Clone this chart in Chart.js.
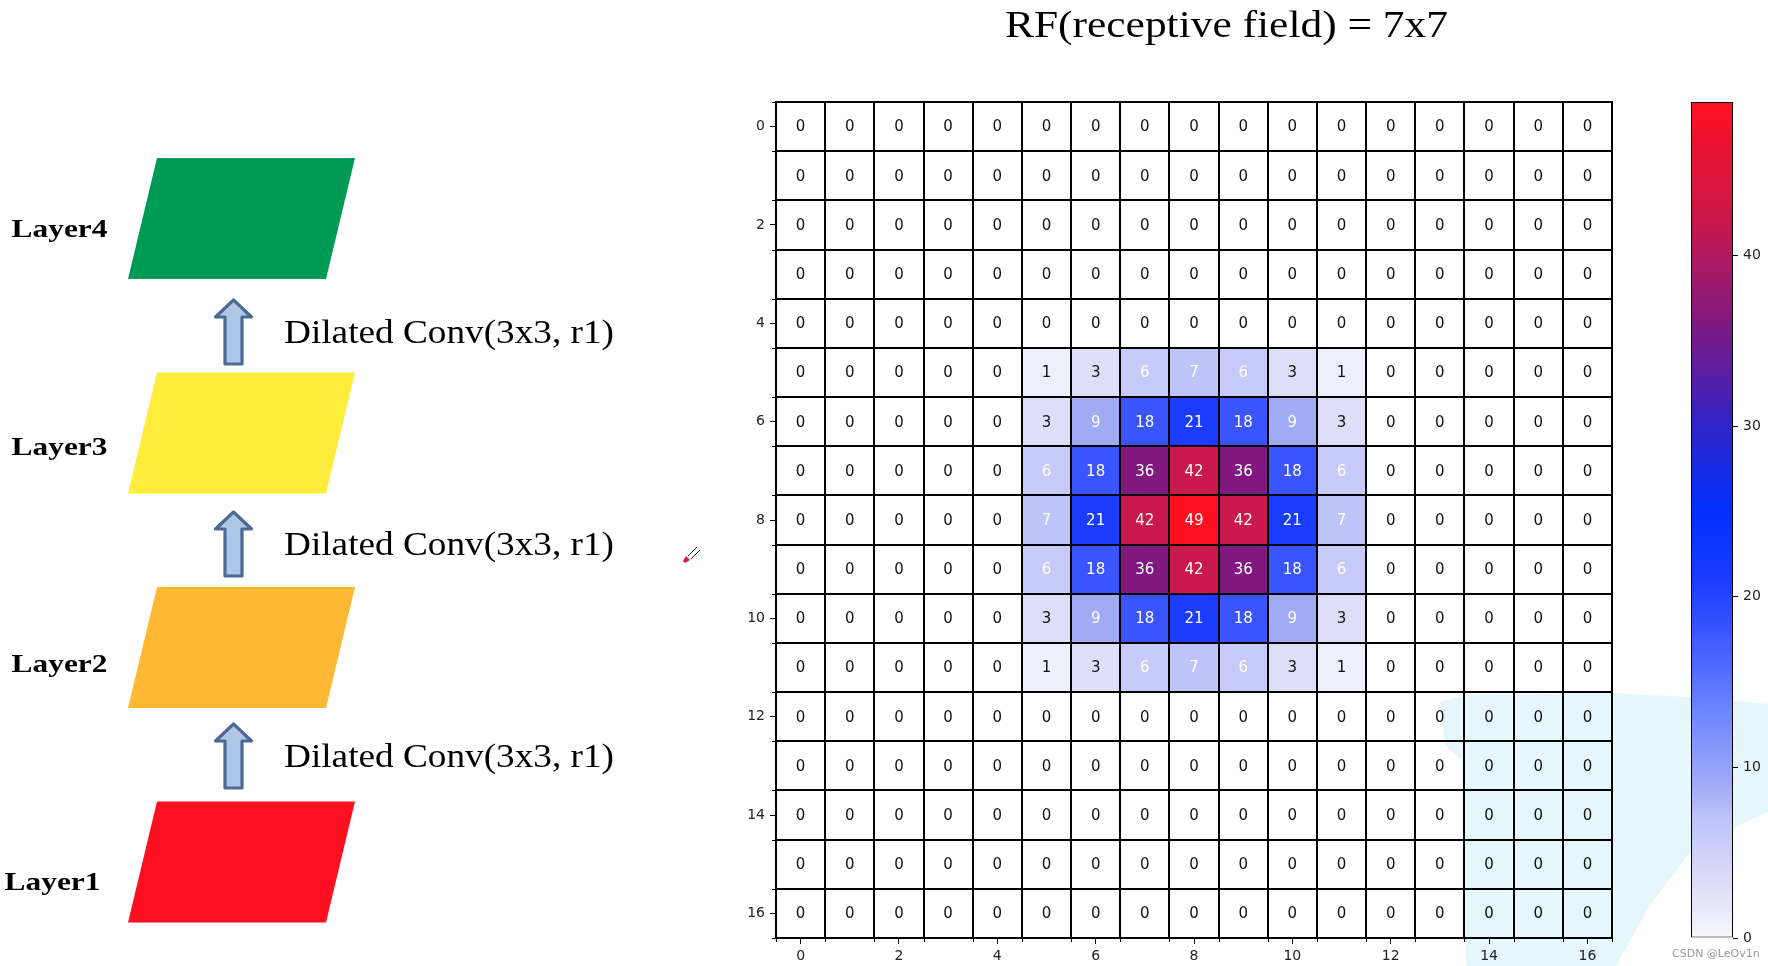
<!DOCTYPE html>
<html>
<head>
<meta charset="utf-8">
<script src="https://cdn.jsdelivr.net/npm/chart.js@4.4.1/dist/chart.umd.min.js"></script>
<style>
html,body{margin:0;padding:0;background:#fff;overflow:hidden;}
#wrap{position:relative;width:1768px;height:966px;background:#fff;}
#main{position:absolute;left:0;top:0;}
#cbar{position:absolute;left:1680px;top:0;}
</style>
</head>
<body>
<div id="wrap">
<canvas id="main" width="1768" height="966"></canvas>
<canvas id="cbar" width="88" height="966"></canvas>
</div>
<script>
// ---------------- DATA ----------------
const titleText = 'RF(receptive field) = 7x7';
const layerNames = ['Layer4', 'Layer3', 'Layer2', 'Layer1'];
const convLabels = ['Dilated Conv(3x3, r1)', 'Dilated Conv(3x3, r1)', 'Dilated Conv(3x3, r1)'];
const colIndex = [0,1,2,3,4,5,6,7,8,9,10,11,12,13,14,15,16];
const rowIndex = [0,1,2,3,4,5,6,7,8,9,10,11,12,13,14,15,16];
const gridValues = [
  [0,0,0,0,0,0,0,0,0,0,0,0,0,0,0,0,0],
  [0,0,0,0,0,0,0,0,0,0,0,0,0,0,0,0,0],
  [0,0,0,0,0,0,0,0,0,0,0,0,0,0,0,0,0],
  [0,0,0,0,0,0,0,0,0,0,0,0,0,0,0,0,0],
  [0,0,0,0,0,0,0,0,0,0,0,0,0,0,0,0,0],
  [0,0,0,0,0,1,3,6,7,6,3,1,0,0,0,0,0],
  [0,0,0,0,0,3,9,18,21,18,9,3,0,0,0,0,0],
  [0,0,0,0,0,6,18,36,42,36,18,6,0,0,0,0,0],
  [0,0,0,0,0,7,21,42,49,42,21,7,0,0,0,0,0],
  [0,0,0,0,0,6,18,36,42,36,18,6,0,0,0,0,0],
  [0,0,0,0,0,3,9,18,21,18,9,3,0,0,0,0,0],
  [0,0,0,0,0,1,3,6,7,6,3,1,0,0,0,0,0],
  [0,0,0,0,0,0,0,0,0,0,0,0,0,0,0,0,0],
  [0,0,0,0,0,0,0,0,0,0,0,0,0,0,0,0,0],
  [0,0,0,0,0,0,0,0,0,0,0,0,0,0,0,0,0],
  [0,0,0,0,0,0,0,0,0,0,0,0,0,0,0,0,0],
  [0,0,0,0,0,0,0,0,0,0,0,0,0,0,0,0,0]
];
const axisTicks = [0,2,4,6,8,10,12,14,16];
const colorbarTicks = [0,10,20,30,40];
const colorbarMin = 0;
const colorbarMax = 49;
const watermarkText = 'CSDN @LeOv1n';

// ---------------- STYLE ----------------
const cmapStops = [
  [0, [255,255,255]], [1, [238,238,252]], [3, [222,222,248]], [6, [198,202,248]],
  [7, [190,195,248]], [9, [160,171,246]], [13, [112,136,255]], [18, [58,85,255]],
  [21, [26,60,255]], [25, [0,48,255]], [30, [48,36,200]], [36, [128,24,128]],
  [42, [200,24,76]], [49, [255,16,32]]
];
const colorbarBottom = [250,247,255];
function rgbStr(c) { return `rgb(${c[0]},${c[1]},${c[2]})`; }
function cmap(v) {
  for (let i = 1; i < cmapStops.length; i++) {
    const [v1, c1] = cmapStops[i];
    const [v0, c0] = cmapStops[i - 1];
    if (v <= v1) {
      const t = (v - v0) / (v1 - v0);
      return rgbStr(c0.map((a, k) => Math.round(a + (c1[k] - a) * t)));
    }
  }
  return rgbStr(cmapStops[cmapStops.length - 1][1]);
}
const layerColors = { Layer4: '#009a57', Layer3: '#ffec3d', Layer2: '#ffb833', Layer1: '#ff1020' };
const mplFont = '"DejaVu Sans", sans-serif';

function stretchText(ctx, text, x, baseline, font, width, color) {
  ctx.save();
  ctx.font = font;
  ctx.fillStyle = color;
  ctx.textAlign = 'left';
  ctx.textBaseline = 'alphabetic';
  const w = ctx.measureText(text).width;
  ctx.translate(x, baseline);
  ctx.scale(width / w, 1);
  ctx.fillText(text, 0, 0);
  ctx.restore();
}

// ---------------- LEFT DIAGRAM + TITLE ----------------
const diagramPlugin = {
  id: 'diagram',
  beforeDraw(chart) {
    const ctx = chart.ctx;
    ctx.save();
    layerNames.forEach((name, i) => {
      const top = 158 + i * 214.5;
      const h = 121;
      ctx.fillStyle = layerColors[name];
      ctx.beginPath();
      ctx.moveTo(157, top);
      ctx.lineTo(355, top);
      ctx.lineTo(326, top + h);
      ctx.lineTo(128, top + h);
      ctx.closePath();
      ctx.fill();
      const lx = name === 'Layer1' ? 4.5 : 11.5;
      stretchText(ctx, name, lx, 237 + i * 217.6, 'bold 25px "Liberation Serif", serif', 96, '#000');
    });
    convLabels.forEach((lab, i) => {
      const dy = i * 212;
      const cx = 233.5;
      ctx.beginPath();
      ctx.moveTo(cx, 300 + dy);
      ctx.lineTo(cx + 18, 317 + dy);
      ctx.lineTo(cx + 8.5, 317 + dy);
      ctx.lineTo(cx + 8.5, 364 + dy);
      ctx.lineTo(cx - 8.5, 364 + dy);
      ctx.lineTo(cx - 8.5, 317 + dy);
      ctx.lineTo(cx - 18, 317 + dy);
      ctx.closePath();
      ctx.fillStyle = '#aec6e8';
      ctx.fill();
      ctx.lineWidth = 3.2;
      ctx.lineJoin = 'round';
      ctx.strokeStyle = '#4b6a94';
      ctx.stroke();
      stretchText(ctx, lab, 284, 343 + dy, '34px "Liberation Serif", serif', 330, '#000');
    });
    stretchText(ctx, titleText, 1005, 37, '37px "Liberation Serif", serif', 443, '#000');
    // small pen cursor
    ctx.strokeStyle = '#222';
    ctx.lineWidth = 1;
    ctx.beginPath();
    ctx.moveTo(688, 556); ctx.lineTo(697, 547);
    ctx.moveTo(691, 559); ctx.lineTo(700, 550);
    ctx.stroke();
    ctx.fillStyle = '#d81e2c';
    ctx.beginPath();
    ctx.moveTo(686, 556); ctx.lineTo(690, 560); ctx.lineTo(685, 563); ctx.lineTo(683, 561);
    ctx.closePath();
    ctx.fill();
    ctx.restore();
  }
};

// ---------------- GRID LINES, CELL LABELS, MINOR TICKS, OVERLAY ----------------
const cellTextPlugin = {
  id: 'cellText',
  afterDatasetsDraw(chart) {
    const ctx = chart.ctx;
    const xs = chart.scales.x, ys = chart.scales.y;
    ctx.save();
    // cell separators at half-integer boundaries
    ctx.strokeStyle = '#000';
    ctx.lineWidth = 2;
    ctx.lineCap = 'square';
    const xl = xs.getPixelForValue(-0.5), xr = xs.getPixelForValue(16.5);
    const yt = ys.getPixelForValue(-0.5), yb = ys.getPixelForValue(16.5);
    ctx.beginPath();
    for (let k = -0.5; k <= 16.5; k += 1) {
      const px = Math.round(xs.getPixelForValue(k));
      ctx.moveTo(px, yt); ctx.lineTo(px, yb);
      const py = Math.round(ys.getPixelForValue(k));
      ctx.moveTo(xl, py); ctx.lineTo(xr, py);
    }
    ctx.stroke();
    // values
    ctx.font = '15px ' + mplFont;
    ctx.textAlign = 'center';
    ctx.textBaseline = 'middle';
    chart.data.datasets.forEach((ds, di) => {
      const meta = chart.getDatasetMeta(di);
      meta.data.forEach((el, i) => {
        const v = ds.data[i].v;
        const p = el.getProps(['x', 'y', 'base'], true);
        ctx.fillStyle = v >= 6 ? '#ffffff' : '#111111';
        ctx.fillText(String(v), p.x, (p.y + p.base) / 2 + 1);
      });
    });
    ctx.restore();
  },
  afterDraw(chart) {
    const ctx = chart.ctx;
    const xs = chart.scales.x, ys = chart.scales.y, a = chart.chartArea;
    ctx.save();
    ctx.strokeStyle = '#000';
    ctx.lineWidth = 1;
    ctx.beginPath();
    for (let k = -0.5; k <= 16.5; k += 1) {
      const px = Math.round(xs.getPixelForValue(k)) + 0.5;
      ctx.moveTo(px, a.bottom); ctx.lineTo(px, a.bottom + 4);
      const py = Math.round(ys.getPixelForValue(k)) + 0.5;
      ctx.moveTo(a.left - 4, py); ctx.lineTo(a.left, py);
    }
    ctx.stroke();
    // light cyan overlay stroke in lower right
    ctx.globalCompositeOperation = 'multiply';
    ctx.fillStyle = 'rgb(230,246,253)';
    ctx.beginPath();
    ctx.moveTo(1440, 702); ctx.lineTo(1466, 695); ctx.lineTo(1612, 693);
    ctx.lineTo(1690, 697); ctx.lineTo(1768, 704); ctx.lineTo(1768, 812);
    ctx.lineTo(1733, 828); ctx.lineTo(1690, 852); ctx.lineTo(1650, 905);
    ctx.lineTo(1616, 966); ctx.lineTo(1466, 966); ctx.lineTo(1462, 760);
    ctx.lineTo(1445, 745);
    ctx.closePath();
    ctx.fill();
    ctx.restore();
    ctx.save();
    ctx.font = '11px ' + mplFont;
    ctx.fillStyle = '#9a9a9a';
    ctx.textAlign = 'left';
    ctx.textBaseline = 'alphabetic';
    ctx.fillText(watermarkText, 1672, 957);
    ctx.restore();
  }
};

// ---------------- MAIN HEATMAP ----------------
const datasets = rowIndex.map((r, ri) => ({
  label: 'row ' + r,
  data: colIndex.map((c, ci) => ({ x: c, y: [r - 0.5, r + 0.5], v: gridValues[ri][ci] })),
  backgroundColor: colIndex.map((c, ci) => cmap(gridValues[ri][ci])),
  borderWidth: 0,
  borderSkipped: false,
  inflateAmount: 0.5,
  grouped: false,
  barPercentage: 1,
  categoryPercentage: 1
}));

new Chart(document.getElementById('main'), {
  type: 'bar',
  data: { datasets },
  options: {
    responsive: false,
    animation: false,
    devicePixelRatio: 1,
    layout: { padding: { left: 720, top: 102, right: 156, bottom: 0 } },
    plugins: { legend: { display: false }, tooltip: { enabled: false }, title: { display: false } },
    datasets: { bar: { grouped: false } },
    scales: {
      x: {
        type: 'linear', min: -0.5, max: 16.5, offset: false,
        afterBuildTicks: s => { s.ticks = axisTicks.map(v => ({ value: v })); },
        afterFit: s => { s.height = 28; },
        grid: { display: true, drawOnChartArea: false, drawTicks: true, tickLength: 6, tickColor: '#000', offset: false },
        border: { display: false },
        ticks: { font: { family: 'DejaVu Sans', size: 14 }, color: '#222', padding: 4, maxRotation: 0, autoSkip: false,
                 callback: v => String(v) }
      },
      y: {
        type: 'linear', min: -0.5, max: 16.5, reverse: true,
        afterBuildTicks: s => { s.ticks = axisTicks.map(v => ({ value: v })); },
        afterFit: s => { s.width = 56; },
        grid: { display: true, drawOnChartArea: false, drawTicks: true, tickLength: 6, tickColor: '#000' },
        border: { display: false },
        ticks: { font: { family: 'DejaVu Sans', size: 14 }, color: '#222', padding: 5, autoSkip: false,
                 callback: v => String(v) }
      }
    }
  },
  plugins: [diagramPlugin, cellTextPlugin]
});

// ---------------- COLORBAR ----------------
function colorbarFill(context) {
  const chart = context.chart;
  const a = chart.chartArea;
  if (!a) return null;
  const ys = chart.scales.y;
  const y0 = ys.getPixelForValue(colorbarMin);
  const y1 = ys.getPixelForValue(colorbarMax);
  const g = chart.ctx.createLinearGradient(0, y0, 0, y1);
  cmapStops.forEach(([v, c]) => {
    g.addColorStop((v - colorbarMin) / (colorbarMax - colorbarMin), v === 0 ? rgbStr(colorbarBottom) : rgbStr(c));
  });
  return g;
}

new Chart(document.getElementById('cbar'), {
  type: 'bar',
  data: {
    labels: ['colorbar'],
    datasets: [{
      data: [[colorbarMin, colorbarMax]],
      backgroundColor: colorbarFill,
      borderColor: '#000',
      borderWidth: 1,
      borderSkipped: false,
      inflateAmount: 0,
      barPercentage: 1,
      categoryPercentage: 1
    }]
  },
  options: {
    responsive: false,
    animation: false,
    devicePixelRatio: 1,
    layout: { padding: { left: 11, top: 102, right: 0, bottom: 28 } },
    plugins: { legend: { display: false }, tooltip: { enabled: false } },
    scales: {
      x: { display: false },
      y: {
        position: 'right', min: colorbarMin, max: colorbarMax,
        afterBuildTicks: s => { s.ticks = colorbarTicks.map(v => ({ value: v })); },
        afterFit: s => { s.width = 35; },
        grid: { display: true, drawOnChartArea: false, drawTicks: true, tickLength: 5, tickColor: '#000' },
        border: { display: false },
        ticks: { font: { family: 'DejaVu Sans', size: 14 }, color: '#222', padding: 5, callback: v => String(v) }
      }
    }
  }
});
</script>
</body>
</html>
